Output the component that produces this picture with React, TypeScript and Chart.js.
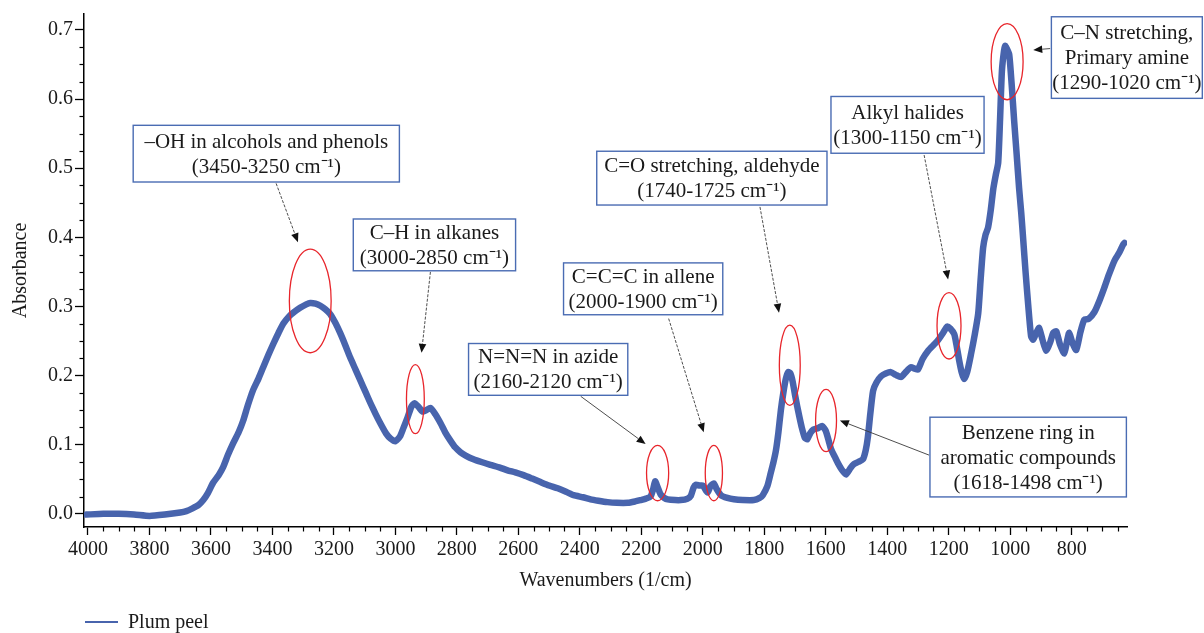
import React, { useEffect, useRef } from 'react';
import { Chart, registerables } from 'chart.js';

Chart.register(...registerables);

const seriesLabel = 'Plum peel';

const wavenumbers = [
  4005, 3950, 3900, 3850, 3800, 3750, 3700, 3680, 3660, 3640, 3625, 3610, 3593, 3575, 3560, 3545, 3528, 3510,
  3495, 3480, 3463, 3445, 3430, 3413, 3397, 3380, 3365, 3345, 3332, 3310, 3290, 3277, 3260, 3244, 3228, 3212,
  3195, 3179, 3163, 3147, 3130, 3114, 3097, 3081, 3065, 3049, 3030, 3016, 3000, 2985, 2974, 2960, 2948, 2938,
  2925, 2912, 2900, 2886, 2870, 2853, 2838, 2821, 2805, 2788, 2770, 2746, 2720, 2691, 2660, 2635, 2610, 2583,
  2555, 2528, 2500, 2472, 2445, 2420, 2390, 2365, 2340, 2310, 2280, 2244, 2220, 2202, 2185, 2170, 2162, 2155,
  2148, 2137, 2125, 2114, 2090, 2072, 2050, 2039, 2030, 2023, 2010, 2000, 1990, 1984, 1975, 1964, 1955, 1941,
  1920, 1899, 1870, 1834, 1815, 1805, 1790, 1779, 1770, 1762, 1754, 1746, 1738, 1730, 1722, 1715, 1708, 1700,
  1693, 1687, 1678, 1668, 1660, 1650, 1640, 1625, 1612, 1600, 1590, 1583, 1570, 1560, 1548, 1534, 1520, 1508,
  1495, 1479, 1470, 1463, 1455, 1446, 1435, 1420, 1405, 1388, 1372, 1355, 1340, 1323, 1310, 1300, 1285, 1267,
  1250, 1235, 1218, 1205, 1195, 1182, 1175, 1166, 1158, 1150, 1140, 1127, 1115, 1104, 1096, 1088, 1080, 1072,
  1063, 1055, 1047, 1039, 1033, 1027, 1020, 1016, 1010, 1003, 995, 987, 979, 971, 964, 958, 950, 941,
  932, 925, 915, 906, 895, 883, 870, 860, 850, 838, 824, 815, 808, 798, 785, 772, 759, 745,
  726, 710, 694, 678, 661, 645, 632, 628,
];

const absorbance = [
  -0.001, 0.0, 0.0, -0.001, -0.003, -0.001, 0.002, 0.004, 0.008, 0.013, 0.02, 0.03, 0.045, 0.056, 0.068, 0.085, 0.102, 0.118,
  0.135, 0.157, 0.179, 0.196, 0.212, 0.23, 0.246, 0.262, 0.275, 0.286, 0.291, 0.298, 0.303, 0.305, 0.304, 0.301, 0.296, 0.289,
  0.276, 0.261, 0.244, 0.226, 0.209, 0.193, 0.176, 0.16, 0.145, 0.131, 0.116, 0.109, 0.105, 0.112, 0.124, 0.14, 0.155, 0.16,
  0.155, 0.148, 0.15, 0.153, 0.144, 0.131, 0.118, 0.106, 0.096, 0.089, 0.084, 0.079, 0.075, 0.071, 0.067, 0.063, 0.06, 0.056,
  0.051, 0.046, 0.041, 0.037, 0.032, 0.027, 0.024, 0.021, 0.019, 0.017, 0.016, 0.016, 0.018, 0.02, 0.022, 0.025, 0.035, 0.047,
  0.04, 0.028, 0.023, 0.021, 0.02, 0.02, 0.022, 0.026, 0.038, 0.042, 0.041, 0.041, 0.034, 0.031, 0.04, 0.044, 0.036, 0.027,
  0.023, 0.021, 0.02, 0.02, 0.023, 0.027, 0.04, 0.059, 0.075, 0.092, 0.118, 0.15, 0.175, 0.195, 0.205, 0.203, 0.192, 0.172,
  0.156, 0.143, 0.125, 0.11, 0.108, 0.117, 0.122, 0.124, 0.127, 0.12, 0.105, 0.094, 0.082, 0.073, 0.064, 0.057, 0.066, 0.072,
  0.075, 0.079, 0.092, 0.111, 0.145, 0.178, 0.19, 0.199, 0.203, 0.205, 0.201, 0.198, 0.205, 0.212, 0.21, 0.209, 0.224, 0.236,
  0.244, 0.251, 0.262, 0.271, 0.268, 0.26, 0.245, 0.222, 0.205, 0.195, 0.205, 0.232, 0.26, 0.29, 0.34, 0.385, 0.404, 0.414,
  0.44, 0.47, 0.49, 0.508, 0.57, 0.64, 0.67, 0.677, 0.672, 0.664, 0.62, 0.568, 0.52, 0.471, 0.435, 0.399, 0.35, 0.3,
  0.257, 0.252, 0.262, 0.269, 0.252, 0.236, 0.248, 0.262, 0.264, 0.245, 0.232, 0.25, 0.262, 0.248, 0.237, 0.262, 0.281, 0.282,
  0.292, 0.308, 0.327, 0.347, 0.366, 0.378, 0.39, 0.392,
];

const xTickValues = [4000, 3800, 3600, 3400, 3200, 3000, 2800, 2600, 2400, 2200, 2000, 1800, 1600, 1400, 1200, 1000, 800];
const yTickValues = [0.0, 0.1, 0.2, 0.3, 0.4, 0.5, 0.6, 0.7];

// Annotation callouts (anchored in wavenumber / absorbance units)
type Note = {
  lines: string[];
  box: [number, number, number, number]; // left wn, right wn, top abs, bottom abs
  ellipse: [number, number, number, number]; // centre wn, centre abs, radius wn, radius abs
  arrow: [number, number, number, number]; // from wn, from abs, tip wn, tip abs
  dashed: boolean;
};

const notes: Note[] = [
  {
    lines: ['–OH in alcohols and phenols', '(3450-3250 cm⁻¹)'],
    box: [3853, 2987, 0.562, 0.48],
    ellipse: [3277, 0.308, 68, 0.075],
    arrow: [3388, 0.478, 3317, 0.393],
    dashed: true,
  },
  {
    lines: ['C–H in alkanes', '(3000-2850 cm⁻¹)'],
    box: [3137, 2609, 0.4265, 0.3516],
    ellipse: [2935, 0.166, 29, 0.05],
    arrow: [2886, 0.35, 2915, 0.233],
    dashed: true,
  },
  {
    lines: ['C=C=C in allene', '(2000-1900 cm⁻¹)'],
    box: [2453, 1935, 0.363, 0.288],
    ellipse: [1964, 0.059, 28, 0.04],
    arrow: [2111, 0.2824, 1997, 0.118],
    dashed: true,
  },
  {
    lines: ['N=N=N in azide', '(2160-2120 cm⁻¹)'],
    box: [2762, 2244, 0.2464, 0.1715],
    ellipse: [2147, 0.059, 36, 0.04],
    arrow: [2397, 0.17, 2186, 0.101],
    dashed: false,
  },
  {
    lines: ['C=O stretching, aldehyde', '(1740-1725 cm⁻¹)'],
    box: [2345, 1596, 0.5245, 0.4467],
    ellipse: [1717, 0.215, 34, 0.058],
    arrow: [1814, 0.444, 1752, 0.291],
    dashed: true,
  },
  {
    lines: ['Benzene ring in', 'aromatic compounds', '(1618-1498 cm⁻¹)'],
    box: [1261, 622, 0.1398, 0.0245],
    ellipse: [1599, 0.135, 34, 0.045],
    arrow: [1264, 0.085, 1554, 0.135],
    dashed: false,
  },
  {
    lines: ['Alkyl halides', '(1300-1150 cm⁻¹)'],
    box: [1583, 1085, 0.6037, 0.5216],
    ellipse: [1199, 0.272, 39, 0.048],
    arrow: [1280, 0.519, 1202, 0.339],
    dashed: true,
  },
  {
    lines: ['C–N stretching,', 'Primary amine', '(1290-1020 cm⁻¹)'],
    box: [866, 375, 0.719, 0.601],
    ellipse: [1010, 0.654, 52, 0.055],
    arrow: [870, 0.673, 925, 0.671],
    dashed: false,
  },
];

const FONT = '"Liberation Serif", "Times New Roman", serif';
const LINE_COLOR = '#4864ad';

const annotationPlugin = {
  id: 'ftirAnnotations',
  afterDatasetsDraw(chart: any) {
    const { ctx, scales } = chart;
    const xs = scales.x;
    const ys = scales.y;
    const area = chart.chartArea;

    ctx.save();
    // minor ticks
    ctx.strokeStyle = '#000';
    ctx.lineWidth = 1.2;
    for (let v = 650; v <= 4000; v += 50) {
      if (v % 200 === 0) continue;
      const px = Math.round(xs.getPixelForValue(v)) + 0.5;
      ctx.beginPath();
      ctx.moveTo(px, area.bottom);
      ctx.lineTo(px, area.bottom + 4.5);
      ctx.stroke();
    }
    for (let i = 0; i <= 28; i++) {
      if (i % 4 === 0) continue;
      const v = i * 0.025;
      const py = Math.round(ys.getPixelForValue(v)) + 0.5;
      ctx.beginPath();
      ctx.moveTo(area.left - 4.5, py);
      ctx.lineTo(area.left, py);
      ctx.stroke();
    }

    for (const n of notes) {
      // ellipse
      const cx = xs.getPixelForValue(n.ellipse[0]);
      const cy = ys.getPixelForValue(n.ellipse[1]);
      const rx = Math.abs(xs.getPixelForValue(n.ellipse[0] + n.ellipse[2]) - cx);
      const ry = Math.abs(ys.getPixelForValue(n.ellipse[1] + n.ellipse[3]) - cy);
      ctx.strokeStyle = '#e8252b';
      ctx.lineWidth = 1.3;
      ctx.beginPath();
      ctx.ellipse(cx, cy, rx, ry, 0, 0, Math.PI * 2);
      ctx.stroke();

      // arrow
      const x0 = xs.getPixelForValue(n.arrow[0]);
      const y0 = ys.getPixelForValue(n.arrow[1]);
      const x1 = xs.getPixelForValue(n.arrow[2]);
      const y1 = ys.getPixelForValue(n.arrow[3]);
      const ang = Math.atan2(y1 - y0, x1 - x0);
      const head = 9;
      const hw = 3.8;
      const bx = x1 - head * Math.cos(ang);
      const by = y1 - head * Math.sin(ang);
      ctx.strokeStyle = '#3a3a3a';
      ctx.lineWidth = 0.9;
      ctx.setLineDash(n.dashed ? [3, 1.5] : []);
      ctx.beginPath();
      ctx.moveTo(x0, y0);
      ctx.lineTo(bx, by);
      ctx.stroke();
      ctx.setLineDash([]);
      ctx.fillStyle = '#111';
      ctx.beginPath();
      ctx.moveTo(x1, y1);
      ctx.lineTo(bx + hw * Math.sin(ang), by - hw * Math.cos(ang));
      ctx.lineTo(bx - hw * Math.sin(ang), by + hw * Math.cos(ang));
      ctx.closePath();
      ctx.fill();

      // box
      const l = xs.getPixelForValue(n.box[0]);
      const r = xs.getPixelForValue(n.box[1]);
      const t = ys.getPixelForValue(n.box[2]);
      const b = ys.getPixelForValue(n.box[3]);
      const left = Math.min(l, r);
      const w = Math.abs(r - l);
      ctx.fillStyle = '#fff';
      ctx.fillRect(left, t, w, b - t);
      ctx.strokeStyle = '#4a6cb3';
      ctx.lineWidth = 1.4;
      ctx.strokeRect(left, t, w, b - t);

      ctx.fillStyle = '#1a1a1a';
      ctx.font = `21px ${FONT}`;
      ctx.textAlign = 'center';
      ctx.textBaseline = 'middle';
      const midY = (t + b) / 2;
      const lh = 25;
      const start = midY - ((n.lines.length - 1) * lh) / 2;
      n.lines.forEach((s, i) => {
        ctx.fillText(s, left + w / 2, start + i * lh + 1);
      });
    }
    ctx.restore();
  },
  afterDraw(chart: any) {
    const { ctx } = chart;
    const area = chart.chartArea;
    const ds = chart.data.datasets[0];
    ctx.save();
    const y = 622;
    ctx.strokeStyle = ds.borderColor;
    ctx.lineWidth = 2;
    ctx.beginPath();
    ctx.moveTo(area.left + 1, y);
    ctx.lineTo(area.left + 34, y);
    ctx.stroke();
    ctx.fillStyle = '#1a1a1a';
    ctx.font = `20px ${FONT}`;
    ctx.textAlign = 'left';
    ctx.textBaseline = 'middle';
    ctx.fillText(ds.label, area.left + 44, y + 1);
    ctx.restore();
  },
};

export default function App() {
  const canvasRef = useRef<HTMLCanvasElement | null>(null);

  useEffect(() => {
    document.body.style.margin = '0';
    const canvas = canvasRef.current;
    if (!canvas) return;
    const points = wavenumbers.map((w, i) => ({ x: w, y: absorbance[i] }));
    const chart = new Chart(canvas, {
      type: 'line',
      data: {
        datasets: [
          {
            label: seriesLabel,
            data: points,
            borderColor: LINE_COLOR,
            backgroundColor: LINE_COLOR,
            borderWidth: 6.5,
            pointRadius: 0,
            tension: 0.2,
            fill: false,
            borderJoinStyle: 'round',
            borderCapStyle: 'round',
          },
        ],
      },
      options: {
        animation: false,
        responsive: false,
        maintainAspectRatio: false,
        layout: { padding: { top: 12, right: 77, left: 0, bottom: 0 } },
        plugins: { legend: { display: false }, tooltip: { enabled: false }, title: { display: false } },
        scales: {
          x: {
            type: 'linear',
            reverse: true,
            min: 620,
            max: 4013,
            afterBuildTicks: (scale: any) => {
              scale.ticks = xTickValues.map((v) => ({ value: v }));
            },
            afterFit: (scale: any) => {
              scale.height = 106;
            },
            ticks: {
              autoSkip: false,
              maxRotation: 0,
              padding: 3,
              color: '#1a1a1a',
              font: { family: FONT, size: 20 },
              callback: (v: any) => String(v),
            },
            grid: { drawOnChartArea: false, drawTicks: true, tickLength: 8, tickColor: '#000', tickWidth: 1.3 },
            border: { display: true, color: '#000', width: 1.5 },
            title: {
              display: true,
              text: 'Wavenumbers (1/cm)',
              color: '#1a1a1a',
              font: { family: FONT, size: 20 },
              padding: { top: 0, bottom: 40 },
            },
          },
          y: {
            type: 'linear',
            min: -0.019,
            max: 0.723,
            afterBuildTicks: (scale: any) => {
              scale.ticks = yTickValues.map((v) => ({ value: v }));
            },
            afterFit: (scale: any) => {
              scale.width = 84;
            },
            ticks: {
              autoSkip: false,
              padding: 2,
              color: '#1a1a1a',
              font: { family: FONT, size: 20 },
              callback: (v: any) => Number(v).toFixed(1),
            },
            grid: { drawOnChartArea: false, drawTicks: true, tickLength: 9, tickColor: '#000', tickWidth: 1.3 },
            border: { display: true, color: '#000', width: 1.5 },
            title: {
              display: true,
              text: 'Absorbance',
              color: '#1a1a1a',
              font: { family: FONT, size: 20 },
              padding: { top: 9, bottom: 0 },
            },
          },
        },
      },
      plugins: [annotationPlugin],
    });
    return () => chart.destroy();
  }, []);

  return (
    <div style={{ width: 1204, height: 633, position: 'relative', background: '#fff' }}>
      <canvas ref={canvasRef} width={1204} height={633} style={{ display: 'block' }} />
    </div>
  );
}
